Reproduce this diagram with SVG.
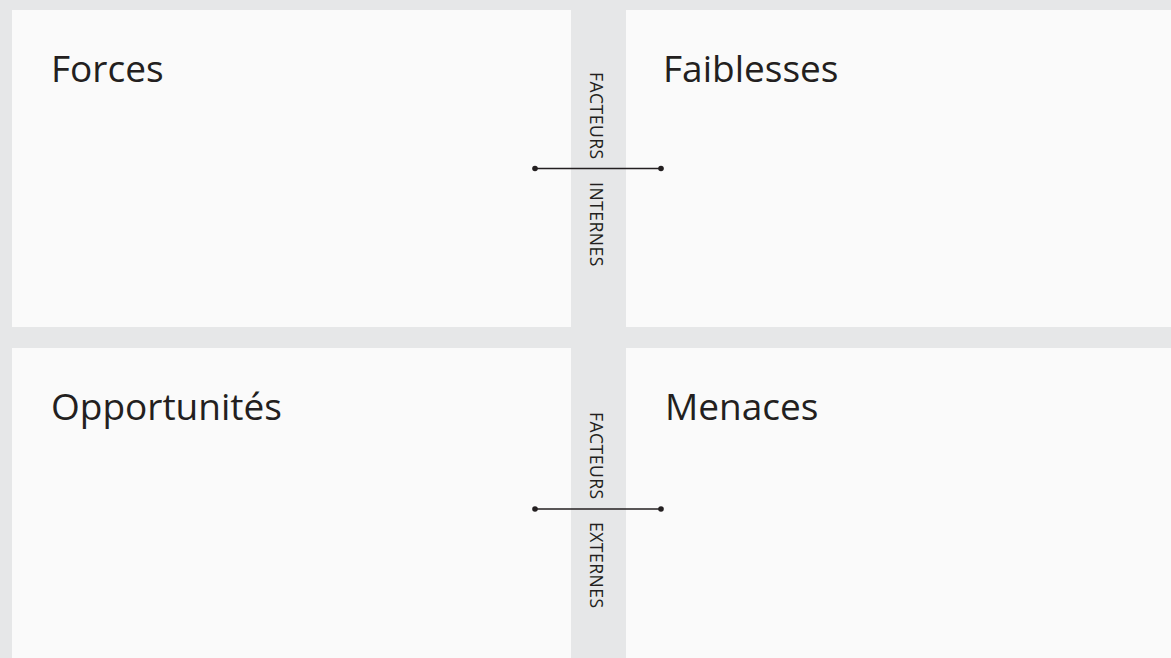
<svg xmlns="http://www.w3.org/2000/svg" width="1171" height="658" viewBox="0 0 1171 658">
<style>
.panel{fill:#fafafa}
.title{font-family:"Open Sans","Liberation Sans",sans-serif;font-size:37px;fill:#231f20}
.side{font-family:"Open Sans","Liberation Sans",sans-serif;font-size:17.5px;fill:#231f20;letter-spacing:0.5px}
.conn{stroke:#231f20;stroke-width:1.5;fill:none}
.dot{fill:#231f20}
</style>
<rect width="1171" height="658" fill="#e6e7e8"/>
<g id="forces">
<rect class="panel" x="12" y="10" width="559" height="317"/>
<text class="title" x="51" y="82">Forces</text>
</g>
<g id="faiblesses">
<rect class="panel" x="626" y="10" width="545" height="317"/>
<text class="title" x="663" y="82">Faiblesses</text>
</g>
<g id="opportunites">
<rect class="panel" x="12" y="348" width="559" height="310"/>
<text class="title" x="51" y="420">Opportunités</text>
</g>
<g id="menaces">
<rect class="panel" x="626" y="348" width="545" height="310"/>
<text class="title" x="665" y="420">Menaces</text>
</g>
<g id="internes">
<text class="side" transform="translate(590,72) rotate(90)">FACTEURS</text>
<text class="side" transform="translate(590,182) rotate(90)">INTERNES</text>
</g>
<g id="externes">
<text class="side" transform="translate(590,412) rotate(90)">FACTEURS</text>
<text class="side" transform="translate(590,522) rotate(90)">EXTERNES</text>
</g>
<g id="connectors">
<line class="conn" x1="535" y1="168.5" x2="661" y2="168.5"/>
<circle class="dot" cx="535" cy="168.5" r="2.8"/>
<circle class="dot" cx="661" cy="168.5" r="2.8"/>
<line class="conn" x1="535" y1="509" x2="661" y2="509"/>
<circle class="dot" cx="535" cy="509" r="2.8"/>
<circle class="dot" cx="661" cy="509" r="2.8"/>
</g>
</svg>
